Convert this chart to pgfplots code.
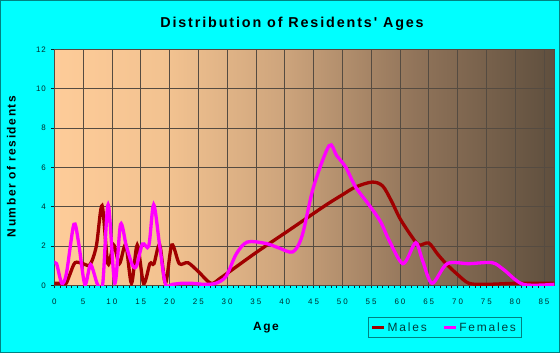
\documentclass[border=0pt]{standalone}
\usepackage{pgfplots}
\pgfplotsset{compat=1.18}
\usepackage{fontspec}
\setmainfont{Liberation Sans}[Ligatures=TeXOff]
\definecolor{bgcyan}{RGB}{0,255,255}
\definecolor{framec}{RGB}{0,130,130}
\definecolor{males}{RGB}{160,0,0}
\definecolor{females}{RGB}{255,0,255}
\definecolor{gridc}{RGB}{85,75,65}
\definecolor{tickc}{RGB}{0,45,45}
\definecolor{g0}{RGB}{254,204,153}
\definecolor{g1}{RGB}{242,194,144}
\definecolor{g2}{RGB}{205,164,124}
\definecolor{g3}{RGB}{145,116,90}
\definecolor{g4}{RGB}{95,79,62}
\pgfdeclarehorizontalshading{agebg}{100bp}{color(0bp)=(g0); color(25bp)=(g0); color(36.5bp)=(g1); color(48bp)=(g2); color(61bp)=(g3); color(75bp)=(g4); color(100bp)=(g4)}
\begin{document}
\begin{tikzpicture}[x=1bp,y=1bp]
\useasboundingbox (0,0) rectangle (560,353);
\fill[bgcyan] (0,0) rectangle (560,353);
\draw[framec, line width=1bp] (0.5,0.5) rectangle (559.5,352.5);
\node[anchor=base, inner sep=0pt, font=\fontsize{14.4}{16}\selectfont\bfseries\addfontfeature{LetterSpace=13}] at (292,325.3) {Distribution of Residents' Ages};
\node[anchor=base, inner sep=0pt, font=\fontsize{12}{14}\selectfont\bfseries\addfontfeature{LetterSpace=13}] at (266,22.3) {Age};
\node[anchor=base, rotate=90, inner sep=0pt, font=\fontsize{12}{14}\selectfont\bfseries\addfontfeature{LetterSpace=13}] at (15.5,186.5) {Number of residents};
\begin{axis}[
  at={(54.3bp,67.7bp)}, anchor=south west,
  scale only axis, width=500bp, height=236bp,
  xmin=0, xmax=86.8, ymin=0, ymax=12,
  xtick={0,5,...,85}, ytick={0,2,...,12},
  minor x tick num=4,
  tick align=outside, tick pos=left,
  major tick length=3bp, minor tick length=2.5bp,
  tick style={tickc, line width=0.6bp},
  grid=major, major grid style={gridc, line width=0.7bp},
  axis line style={gridc, line width=0.7bp},
  axis background/.style={shading=agebg},
  /pgf/number format/assume math mode=true,
  xticklabel style={font=\fontsize{8}{9}\selectfont\addfontfeature{LetterSpace=25}, text=tickc, yshift=-7bp},
  yticklabel style={font=\fontsize{8}{9}\selectfont\addfontfeature{LetterSpace=10}, text=tickc, xshift=-2bp},
  legend columns=2,
  legend style={at={(axis description cs:0.7804,-0.1794)}, anchor=center, draw=framec, fill=bgcyan, line width=0.8bp,
    font=\fontsize{12}{14}\selectfont\addfontfeature{LetterSpace=15}, text=tickc!80!framec,
    inner xsep=3bp, inner ysep=3bp,
    /tikz/every even column/.append style={column sep=14bp}},
  legend image code/.code={\draw[#1, line width=2.6bp] (0bp,0bp) -- (12bp,0bp);},
]
\addplot[males, line width=3.3bp, smooth, tension=0.5] coordinates {
(0,0.1) (1,0.1) (2,0.08) (2.7,0.55) (3.6,1.15) (5,1.1) (6.2,1.05) (7.3,2.0) (8.3,4.05) (9.3,1.1) (10.3,2.05) (11.3,1.1) (12.4,2.05) (13.4,0.1) (14.4,2.05) (15.5,0.1) (16.6,1.1) (17.3,1.1) (18.3,2.05) (19.3,0.1) (20.4,2.05) (21.7,1.1) (23.2,1.15) (25,0.7) (27.2,0.1) (29,0.4) (35,1.66) (41,2.85) (47,4.05) (50,4.6) (52.3,5.0) (55.2,5.25) (57,5.05) (58.5,4.3) (60,3.4) (62,2.5) (63.3,2.05) (65,2.15) (66.5,1.6) (68,1.1) (70,0.55) (72,0.1) (75,0.05) (80,0.1) (86.8,0.1)
};
\addlegendentry{Males}
\addplot[females, line width=3.3bp, smooth, tension=0.5] coordinates {
(0,1.1) (0.4,1.1) (1.3,0.1) (2.1,0.6) (3.4,3.1) (4.2,2.2) (5.3,0.05) (6.3,1.05) (7.5,0.05) (8.4,0.05) (9.35,4.1) (10.5,0.1) (11.5,3.1) (12.5,2.0) (13.6,1.0) (14.3,1.0) (15.3,2.1) (16.4,2.0) (17.25,4.1) (18.3,2.0) (19.3,0.05) (20.5,0.05) (22,0.1) (24,0.1) (26,0.05) (28,0.1) (29.8,0.45) (31.6,1.6) (33.5,2.2) (36.7,2.13) (39,1.9) (41.4,1.7) (43,2.5) (45,5.0) (47.7,7.1) (49,6.6) (50.6,6.0) (52.3,5.0) (54.6,4.1) (56.6,3.25) (58.1,2.3) (60.5,1.1) (62.4,2.05) (63,2.1) (64,1.2) (65.6,0.1) (68.2,1.1) (72,1.1) (76,1.15) (78,0.8) (81.4,0.05) (86.8,0.05)
};
\addlegendentry{Females}
\end{axis}
\end{tikzpicture}
\end{document}
